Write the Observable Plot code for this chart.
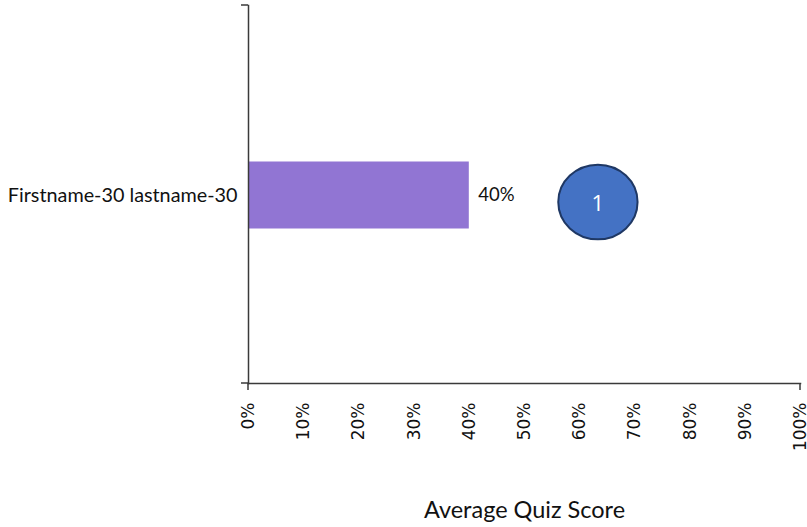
<!DOCTYPE html>
<html>
<head>
<meta charset="utf-8">
<script src="https://cdn.jsdelivr.net/npm/d3@7"></script>
<script src="https://cdn.jsdelivr.net/npm/@observablehq/plot@0.6"></script>
<style>
  html, body { margin: 0; padding: 0; background: #fff; }
  svg { display: block; }
</style>
</head>
<body>
<div id="chart"></div>
<script>
const names = ["Firstname-30 lastname-30"];
const scores = [0.40];
const barLabels = ["40%"];
const xTicks = [0, 0.1, 0.2, 0.3, 0.4, 0.5, 0.6, 0.7, 0.8, 0.9, 1.0];
const xEndTicks = [0, 1];
const xTitle = "Average Quiz Score";
const badgeX = [0.633];
const badgeText = ["1"];

const data = names.map((n, i) => ({name: n, score: scores[i], label: barLabels[i]}));
const badges = badgeX.map((x, i) => ({x, name: names[0], text: badgeText[i]}));

const axisColor = "#3a3a3a";
const font = "Lato, 'Open Sans', sans-serif";

// slightly wide ellipse symbol
const ellipse = {
  draw(context, size) {
    const r = Math.sqrt(size / Math.PI);
    const rx = r * 1.03, ry = r * 0.97, k = 0.5523;
    context.moveTo(rx, 0);
    context.bezierCurveTo(rx, k * ry, k * rx, ry, 0, ry);
    context.bezierCurveTo(-k * rx, ry, -rx, k * ry, -rx, 0);
    context.bezierCurveTo(-rx, -k * ry, -k * rx, -ry, 0, -ry);
    context.bezierCurveTo(k * rx, -ry, rx, -k * ry, rx, 0);
    context.closePath();
  }
};

// category-axis boundary ticks (left) and x-axis end ticks (down)
const axisTicks = (index, scales, values, dims) => {
  const g = d3.create("svg:g").attr("stroke", axisColor).attr("stroke-width", 1.5).attr("fill", "none");
  const x0 = dims.marginLeft;
  const yTop = dims.marginTop, yBot = dims.height - dims.marginBottom;
  for (const y of [yTop, yBot]) {
    g.append("line").attr("x1", x0 - 7).attr("x2", x0).attr("y1", y).attr("y2", y);
  }
  for (const v of xEndTicks) {
    const x = scales.x(v);
    g.append("line").attr("x1", x).attr("x2", x).attr("y1", yBot).attr("y2", yBot + 7);
  }
  return g.node();
};

const chart = Plot.plot({
  width: 807,
  height: 527,
  marginLeft: 248,
  marginRight: 7,
  marginTop: 5,
  marginBottom: 144,
  style: {fontFamily: font, background: "#fff"},
  x: {domain: [0, 1]},
  y: {domain: names, padding: 0, axis: null},
  marks: [
    Plot.barX(data, {x: "score", y: "name", fill: "#9175d3", insetTop: 156.5, insetBottom: 154.5}),
    Plot.text(data, {x: "score", y: "name", text: "label", textAnchor: "start", dx: 9, dy: 1, fontSize: 18.5, fill: "#111", fontFamily: font}),
    Plot.text(data, {x: 0, y: "name", text: "name", textAnchor: "end", dx: -11, dy: 1, fontSize: 19.8, fill: "#111", fontFamily: font}),
    Plot.dot(badges, {x: "x", y: "name", r: 38.5, dy: 7.5, symbol: ellipse, fill: "#4472c4", stroke: "#1f3864", strokeWidth: 2}),
    Plot.text(badges, {x: "x", y: "name", text: "text", dy: 9, fill: "#fff", fontSize: 22, fontFamily: "'Open Sans', sans-serif"}),
    Plot.frame({anchor: "left", stroke: axisColor, strokeWidth: 1.5}),
    Plot.frame({anchor: "bottom", stroke: axisColor, strokeWidth: 1.5}),
    axisTicks,
    Plot.axisX({ticks: xTicks, tickFormat: d3.format(".0%"), tickRotate: -90, tickSize: 0, tickPadding: 19, fontSize: 17, fontFamily: "'DejaVu Sans', sans-serif", fill: "#111", label: null}),
    Plot.text([xTitle], {frameAnchor: "bottom", dy: 134, fontSize: 23.5, fill: "#111", fontFamily: font})
  ]
});

document.getElementById("chart").appendChild(chart);
</script>
</body>
</html>
